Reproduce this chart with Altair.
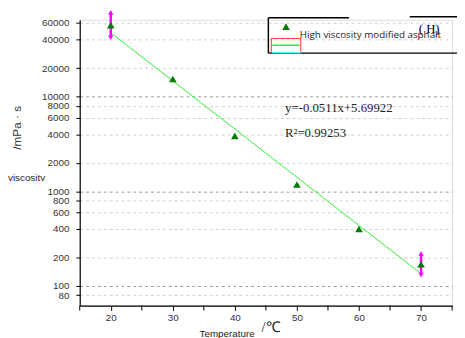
import altair as alt
import pandas as pd

# measured data
temps = [20, 30, 40, 50, 60, 70]
visc = [57000, 15400, 3850, 1180, 400, 170]

# error bars
err_x = [20, 70]
err_lo = [41900, 130]
err_hi = [77800, 220]

# fitted line endpoints (log10(y) = -0.0511x + 5.69922)
fit_x = [20, 70]
fit_y = [47500, 135]

y_ticks = [80, 100, 200, 400, 600, 800, 1000, 2000, 4000, 6000, 8000, 10000, 20000, 40000, 60000]
x_ticks = [20, 30, 40, 50, 60, 70]
x_minor = [15, 25, 35, 45, 55, 65, 75]

W, H = 379, 291
SANS = "Liberation Sans"
SERIF = "Liberation Serif"

pts = pd.DataFrame({"T": temps, "V": visc})
errs = pd.DataFrame({"T": err_x, "lo": err_lo, "hi": err_hi})
fit = pd.DataFrame({"T": fit_x, "V": fit_y})
minor = pd.DataFrame({"T": x_minor})

xscale = alt.Scale(domain=[15, 75], nice=False, zero=False)
yscale = alt.Scale(type="log", domain=[62, 65000], nice=False)

major = "indexof([100,1000,10000], datum.value) >= 0"

xaxis = alt.Axis(values=x_ticks, grid=False, title=None,
                 tickSize=5, labelPadding=2, labelFont=SANS, labelFontSize=10,
                 labelColor="#333", domainColor="#000", tickColor="#000",
                 domainWidth=1.2, labelFlush=False, labelOverlap=False)
yaxis = alt.Axis(values=y_ticks, format="d", title=None,
                 grid=True, gridDash=[3, 3],
                 gridColor={"condition": {"test": major, "value": "#9a9a9a"}, "value": "#cfcfcf"},
                 tickSize=4,
                 labelPadding=7, labelFont=SANS, labelFontSize=10, labelColor="#333",
                 domainColor="#000", tickColor="#000", domainWidth=1.2,
                 labelFlush=False, labelOverlap=False)

base_line = alt.Chart(fit).mark_line(color="#33ee33", strokeWidth=1).encode(
    x=alt.X("T:Q", scale=xscale, axis=xaxis),
    y=alt.Y("V:Q", scale=yscale, axis=yaxis),
)

minor_ticks = alt.Chart(minor).mark_rule(color="#000", strokeWidth=1).encode(
    x=alt.X("T:Q", scale=xscale), y=alt.value(H), y2=alt.value(H + 5))

err_rule = alt.Chart(errs).mark_rule(color="#ff00ff", strokeWidth=2.5).encode(
    x=alt.X("T:Q", scale=xscale), y=alt.Y("lo:Q", scale=yscale), y2="hi:Q")
err_top = alt.Chart(errs).mark_point(shape="triangle-up", filled=True, color="#ff00ff",
                                     size=30, opacity=1).encode(
    x=alt.X("T:Q", scale=xscale), y=alt.Y("hi:Q", scale=yscale))
err_bot = alt.Chart(errs).mark_point(shape="triangle-down", filled=True, color="#ff00ff",
                                     size=30, opacity=1).encode(
    x=alt.X("T:Q", scale=xscale), y=alt.Y("lo:Q", scale=yscale))

points = alt.Chart(pts).mark_point(shape="triangle-up", filled=True, color="#007a00",
                                   size=60, opacity=1).encode(
    x=alt.X("T:Q", scale=xscale), y=alt.Y("V:Q", scale=yscale))

one = alt.Data(values=[{"a": 0}])


def rule(x1, x2, y1, y2, color, width=1.0):
    return alt.Chart(one).mark_rule(color=color, strokeWidth=width).encode(
        x=alt.value(x1), x2=alt.value(x2), y=alt.value(y1), y2=alt.value(y2))


def text(s, x, y, size, font, align="left", angle=0, color="#000", baseline="middle"):
    return alt.Chart(one).mark_text(text=s, fontSize=size, font=font, align=align,
                                    baseline=baseline, angle=angle, color=color).encode(
        x=alt.value(x), y=alt.value(y))


# legend box (open top border with title gap)
legend = [
    rule(192, 274, -2, -2, "#000", 1.5),
    rule(336, 385, -3, -3, "#000", 1.5),
    rule(192, 192, -2, 34, "#000", 1.5),
    rule(192, 385, 34, 34, "#000", 1.5),
    rule(195, 225, 19, 19, "#ff3333", 1),
    rule(195, 195, 19, 34, "#ff3333", 1),
    rule(225, 225, 19, 34, "#ff3333", 1),
    rule(196, 224, 26, 26, "#33ee33", 1.5),
    rule(196, 225, 33.5, 33.5, "#55ffff", 1.5),
    alt.Chart(one).mark_point(shape="triangle-up", filled=True, color="#007a00",
                              size=60, opacity=1).encode(x=alt.value(210), y=alt.value(7)),
    text("High viscosity modified asphalt", 224, 16, 10, "Open Sans", color="#222"),
    text("( H)", 345, 10, 13, SERIF),
]

labels = [
    text("y=-0.0511x+5.69922", 209, 90, 13, SERIF, color="#222"),
    text("R²=0.99253", 209, 115, 13, SERIF, color="#222"),
    text("/mPa · s", -64, 110, 12, SANS, align="center", angle=270, color="#333"),
    text("viscositv", -73, 161, 10, SANS, color="#222"),
    text("Temperature", 122, 320, 10, SANS, color="#222"),
    text("/℃", 185, 313, 15, SERIF, color="#222"),
]

chart = alt.layer(base_line, minor_ticks, err_rule, err_top, err_bot, points,
                  *legend, *labels).properties(
    width=W, height=H,
    autosize=alt.AutoSizeParams(type="none"),
    padding={"left": 73, "top": 9, "right": 5, "bottom": 30},
).configure_view(stroke=None).configure(background="white")

chart.save("out.html", embed_options={"renderer": "svg", "actions": False})
